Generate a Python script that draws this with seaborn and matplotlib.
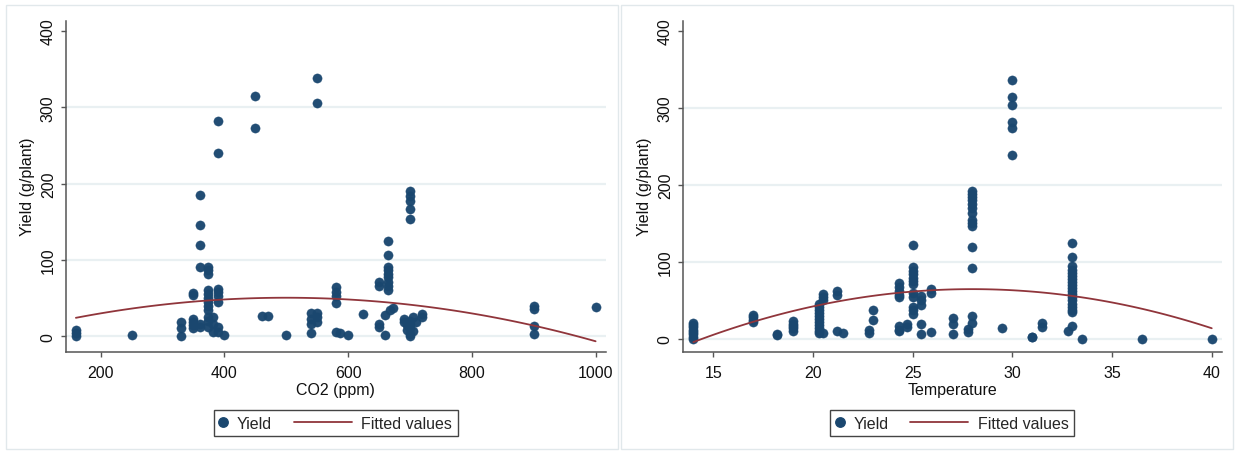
import numpy as np
import pandas as pd
import matplotlib
matplotlib.use("Agg")
import matplotlib.pyplot as plt
from matplotlib.patches import Rectangle
from matplotlib.lines import Line2D
from matplotlib.legend_handler import HandlerBase
import seaborn as sns

# ---------------- data ----------------
co2 = [160, 160, 160, 250, 330, 330, 330,
       350, 350, 350, 350, 350, 350,
       360, 360, 360, 360, 360, 360,
       373, 373, 373, 373, 373, 373, 373, 373, 373, 373, 373, 373,
       381, 381, 381,
       390, 390, 390, 390, 390, 390, 390, 390,
       400, 450, 450, 460, 471, 500,
       540, 540, 540, 540, 550, 550, 550, 550, 550,
       581, 581, 581, 581, 581, 587, 600, 624,
       650, 650, 650, 650, 660, 660,
       665, 665, 665, 665, 665, 665, 665, 665, 665,
       668, 673,
       690, 690, 695, 695, 700, 700, 700, 700, 700, 705, 705, 710,
       700, 700, 700, 700, 700,
       719, 719,
       900, 900, 900, 900, 1000]
yield_co2 = [0, 4, 8, 1, 0, 10, 18,
             57, 54, 23, 19, 14, 10,
             185, 146, 119, 91, 16, 12,
             91, 86, 82, 60, 55, 50, 45, 40, 34, 25, 20, 12,
             25, 16, 5,
             282, 240, 62, 58, 52, 45, 12, 5,
             2, 315, 273, 26, 26, 1,
             30, 23, 16, 4, 338, 305, 30, 25, 18,
             64, 58, 52, 43, 5, 4, 2, 29,
             71, 65, 16, 12, 2, 27,
             124, 106, 91, 87, 82, 78, 71, 65, 60,
             34, 37,
             23, 18, 14, 8, 3, 0, 10, 16, 20, 25, 6, 18,
             190, 183, 177, 166, 153,
             29, 25,
             40, 35, 13, 3, 38]

temp = [14, 14, 14, 14, 14, 14, 14, 14,
        17, 17, 17, 17,
        18.2, 18.2,
        19, 19, 19, 19, 19,
        20.3, 20.3, 20.3, 20.3, 20.3, 20.3, 20.3, 20.3, 20.3, 20.3, 20.3,
        20.5, 20.5, 20.5, 20.5,
        21.2, 21.2, 21.2, 21.5,
        22.8, 22.8, 23, 23,
        24.3, 24.3, 24.3, 24.3, 24.3, 24.3, 24.3, 24.3,
        24.7, 24.7,
        25, 25, 25, 25, 25, 25, 25, 25, 25, 25, 25, 25,
        25.4, 25.4, 25.4, 25.4, 25.4,
        25.9, 25.9, 25.9,
        27, 27, 27,
        27.8, 27.8,
        28, 28, 28, 28, 28, 28, 28, 28, 28, 28, 28, 28, 28, 28,
        29.5,
        30, 30, 30, 30, 30, 30,
        31, 31, 31.5, 31.5,
        32.8,
        33, 33, 33, 33, 33, 33, 33, 33, 33, 33, 33, 33, 33, 33, 33, 33, 33, 33, 33,
        33.5, 36.5, 40]
yield_temp = [0, 3, 6, 9, 12, 15, 18, 21,
              22, 25, 28, 31,
              5, 7,
              11, 14, 17, 20, 23,
              8, 11, 14, 18, 22, 26, 30, 34, 38, 42, 46,
              59, 55, 50, 8,
              62, 57, 11, 8,
              8, 12, 38, 24,
              72, 67, 62, 57, 54, 17, 12, 10,
              20, 15,
              122, 93, 88, 84, 79, 75, 71, 60, 55, 41, 37, 33,
              56, 50, 44, 19, 6,
              65, 60, 9,
              27, 20, 7,
              13, 9,
              192, 188, 184, 180, 175, 170, 163, 155, 150, 147, 120, 92, 30, 21,
              14,
              336, 314, 303, 282, 274, 239,
              2, 3, 21, 16,
              10,
              125, 107, 95, 90, 86, 82, 78, 74, 70, 66, 62, 58, 54, 50, 46, 42, 38, 35, 17,
              0, 0, 0]

# fitted values (quadratic fit) at several x positions
fit_co2_x = [160, 400, 480, 555, 620, 800, 1000]
fit_co2_y = [24.5, 46.5, 50.5, 49.5, 47, 31, -7.5]
fit_temp_x = [14, 17, 20, 25, 28, 30, 32, 36, 40]
fit_temp_y = [-4.5, 22, 43.5, 61.7, 64.5, 63, 58.5, 42, 14.3]

co2_ticks = [200, 400, 600, 800, 1000]
temp_ticks = [15, 20, 25, 30, 35, 40]
yield_ticks = [0, 100, 200, 300, 400]

df_co2 = pd.DataFrame({"CO2 (ppm)": co2, "Yield": yield_co2})
df_temp = pd.DataFrame({"Temperature": temp, "Yield": yield_temp})
fit_co2 = pd.DataFrame({"CO2 (ppm)": fit_co2_x, "Fitted": fit_co2_y})
fit_temp = pd.DataFrame({"Temperature": fit_temp_x, "Fitted": fit_temp_y})

# ---------------- style ----------------
sns.set_theme(style="white")
plt.rcParams["font.family"] = ["Liberation Sans", "DejaVu Sans"]

NAVY = "#1a476f"
MAROON = "#90353b"
GRID = "#e9f0f2"
AXC = "#555555"
FS = 11.5

W, H = 1235, 452
fig = plt.figure(figsize=(W / 100, H / 100), dpi=100)
fig.patch.set_facecolor("white")

# panel frames
for (x0, x1) in [(6, 618), (621, 1233)]:
    fig.patches.append(Rectangle((x0 / W, 1 - 450 / H), (x1 - x0) / W, (450 - 6) / H,
                                 transform=fig.transFigure, fill=False,
                                 edgecolor="#e1e8eb", linewidth=1.0))


class LongLineHandler(HandlerBase):
    """Legend line that extends to the left of its (short) handle box."""
    def __init__(self, length_pt):
        super().__init__()
        self.length_pt = length_pt

    def create_artists(self, legend, orig_handle, xdescent, ydescent, width,
                       height, fontsize, trans):
        y = height / 2.0 - ydescent
        x1 = width - xdescent
        ln = Line2D([x1 - self.length_pt, x1], [y, y], color=orig_handle.get_color(),
                    lw=orig_handle.get_linewidth())
        ln.set_transform(trans)
        return [ln]


def make_panel(rect, df, fit, xcol, xticks, xlim, ylim, legend_cx):
    ax = fig.add_axes(rect)
    ax.set_facecolor("white")
    for yv in yield_ticks[:-1]:
        ax.axhline(yv, color=GRID, lw=1.6, zorder=0)
    sns.scatterplot(data=df, x=xcol, y="Yield", color=NAVY, s=44, linewidth=0.3,
                    edgecolor=NAVY, alpha=0.97, zorder=4, ax=ax, legend=False)
    sns.regplot(data=fit, x=xcol, y="Fitted", order=2, ci=None, scatter=False,
                line_kws=dict(color=MAROON, lw=1.3, zorder=5), ax=ax)
    ax.set_xlim(*xlim)
    ax.set_ylim(*ylim)
    ax.set_xticks(xticks)
    ax.set_yticks(yield_ticks)
    ax.set_yticklabels([str(v) for v in yield_ticks], rotation=90, va="center")
    for s in ["top", "right"]:
        ax.spines[s].set_visible(False)
    for s in ["left", "bottom"]:
        ax.spines[s].set_color(AXC)
        ax.spines[s].set_linewidth(1.1)
    ax.tick_params(axis="both", which="major", direction="out", length=3.8,
                   width=1.0, color=AXC, labelsize=FS, labelcolor="#111111",
                   bottom=True, left=True)
    ax.tick_params(axis="x", pad=5.5)
    ax.tick_params(axis="y", pad=3.5)
    ax.set_xlabel(xcol, fontsize=FS, color="#111111", labelpad=1.5)
    ax.set_ylabel("Yield (g/plant)", fontsize=FS, color="#111111", labelpad=4)
    ax.grid(False)

    h_dot = Line2D([], [], marker="o", linestyle="none", color=NAVY,
                   markersize=6.8, label="Yield")
    h_line = Line2D([], [], color=MAROON, lw=1.3, label="Fitted values")
    fig.legend(handles=[h_dot, h_line], loc="upper center",
               bbox_to_anchor=(legend_cx / W, 1 - 403 / H), ncol=2, numpoints=1,
               handler_map={h_line: LongLineHandler(41.8)},
               frameon=True, fancybox=False, edgecolor="#444444",
               fontsize=FS, handlelength=0.5, handletextpad=0.6,
               columnspacing=4.5, borderpad=0.35, framealpha=1)
    return ax


ax1 = make_panel([66 / W, 1 - 352.7 / H, 539.5 / W, 331 / H], df_co2, fit_co2,
                 "CO2 (ppm)", co2_ticks, (144, 1016), (-20.5, 413.5), 335.8)
ax2 = make_panel([683 / W, 1 - 352.7 / H, 538.7 / W, 331 / H], df_temp, fit_temp,
                 "Temperature", temp_ticks, (13.48, 40.5), (-16.5, 413), 952.3)

fig.savefig("out.png", dpi=100, facecolor="white")
